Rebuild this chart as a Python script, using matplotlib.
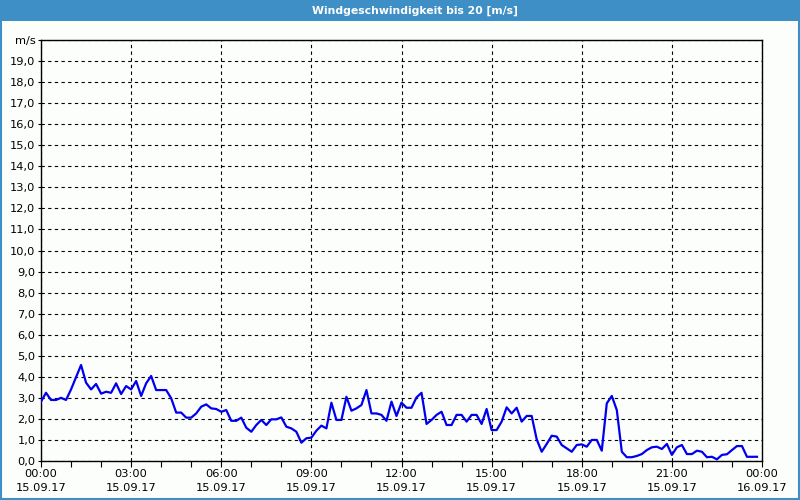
import numpy as np
import matplotlib
matplotlib.use("Agg")
import matplotlib.pyplot as plt
from matplotlib.patches import Rectangle

# Messwerte alle 10 Minuten, 15.09.17 00:00 - 23:50
wind = [2.82, 3.24, 2.9, 2.9, 3.0, 2.9, 3.4, 3.98, 4.56, 3.72,
        3.4, 3.66, 3.2, 3.29, 3.24, 3.69, 3.18, 3.56, 3.4, 3.8,
        3.09, 3.69, 4.04, 3.37, 3.37, 3.37, 2.98, 2.3, 2.3, 2.06,
        2.06, 2.26, 2.58, 2.69, 2.5, 2.47, 2.34, 2.42, 1.91, 1.91,
        2.06, 1.58, 1.39, 1.71, 1.95, 1.71, 1.98, 1.98, 2.07, 1.63,
        1.55, 1.39, 0.87, 1.08, 1.11, 1.44, 1.68, 1.55, 2.77, 1.95,
        1.95, 3.05, 2.39, 2.5, 2.66, 3.37, 2.26, 2.26, 2.19, 1.91,
        2.82, 2.14, 2.77, 2.53, 2.53, 3.02, 3.24, 1.76, 1.95, 2.19,
        2.34, 1.71, 1.71, 2.19, 2.19, 1.87, 2.19, 2.19, 1.76, 2.47,
        1.47, 1.47, 1.87, 2.55, 2.26, 2.53, 1.87, 2.14, 2.14, 1.03,
        0.44, 0.81, 1.2, 1.16, 0.76, 0.6, 0.44, 0.76, 0.79, 0.68,
        1.0, 1.0, 0.49, 2.74, 3.09, 2.42, 0.44, 0.18, 0.18, 0.24,
        0.33, 0.52, 0.65, 0.68, 0.57, 0.81, 0.29, 0.65, 0.76, 0.33,
        0.33, 0.49, 0.44, 0.18, 0.2, 0.08, 0.29, 0.32, 0.52, 0.71,
        0.71, 0.2, 0.2, 0.2]
hours = np.arange(len(wind)) / 6.0

xtick_hours = [0, 3, 6, 9, 12, 15, 18, 21, 24]
xtick_labels = ["00:00\n15.09.17", "03:00\n15.09.17", "06:00\n15.09.17",
                "09:00\n15.09.17", "12:00\n15.09.17", "15:00\n15.09.17",
                "18:00\n15.09.17", "21:00\n15.09.17", "00:00\n16.09.17"]
ytick_vals = list(range(0, 21))
ytick_labels = ["%d,0" % v for v in range(0, 20)] + ["m/s"]

title = "Windgeschwindigkeit bis 20 [m/s]"
bar_col = "#3d8fc6"

fig = plt.figure(figsize=(8, 5), dpi=100, facecolor="#fcfefc")

# Titelleiste + Rahmen
fig.patches.append(Rectangle((0, 1 - 21 / 500), 1, 21 / 500, transform=fig.transFigure,
                             facecolor=bar_col, edgecolor="none", zorder=0))
fig.patches.append(Rectangle((0.001, 0.002), 0.998, 0.996, transform=fig.transFigure,
                             facecolor="none", edgecolor=bar_col, linewidth=1.5, zorder=1))
fig.text(415 / 800, 1 - 11 / 500, title, color="white", fontsize=7.8, fontweight="bold",
         ha="center", va="center")

ax = fig.add_axes([41 / 800, 1 - 461 / 500, 721 / 800, 421 / 500])
ax.set_facecolor("#fcfefc")
ax.plot(hours, wind, color="#0000ee", linewidth=1.6, zorder=3)

ax.set_xlim(0, 24)
ax.set_ylim(0, 20)
ax.set_xticks(xtick_hours)
ax.set_xticklabels(xtick_labels, fontsize=8.2, linespacing=1.5)
ax.set_xticks(range(0, 25), minor=True)
ax.set_yticks(ytick_vals)
ax.set_yticklabels(ytick_labels, fontsize=8.2)

ax.tick_params(axis="x", which="both", direction="out", length=4, width=0.8, pad=2)
ax.tick_params(axis="y", direction="out", length=2, width=0.8, pad=2)

ax.grid(True, which="major", color="black", linestyle=(0, (3, 3)), linewidth=0.8)
for s in ax.spines.values():
    s.set_linewidth(1.0)
    s.set_color("black")

fig.savefig("out.png", dpi=100, facecolor=fig.get_facecolor())
